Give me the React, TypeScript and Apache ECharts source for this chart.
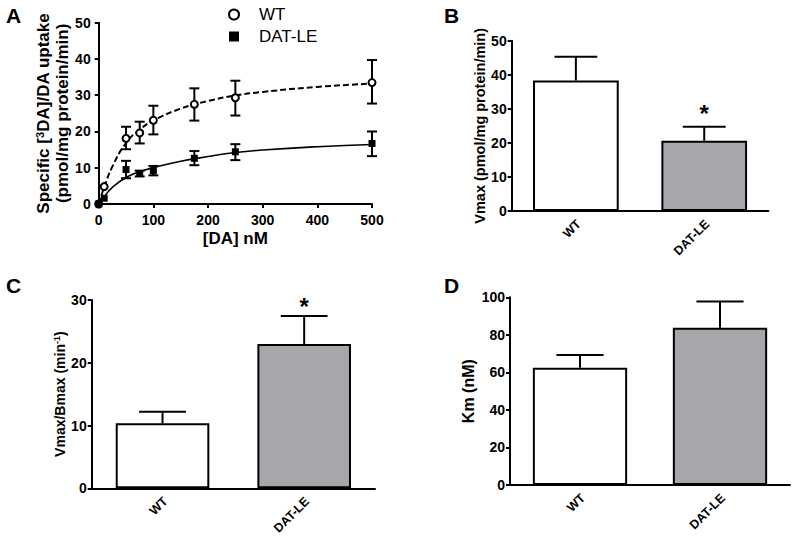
import React, { useEffect, useRef } from "react";
import * as echarts from "echarts";

const FONT = "Arial, 'Liberation Sans', sans-serif";

// Panel A: uptake kinetics
const doseNM = [0, 10, 50, 75, 100, 175, 250, 500];
const wtMean = [0, 4.8, 18.1, 19.6, 23.1, 27.5, 29.3, 33.5];
const wtLow = [0, 4.8, 15.1, 16.7, 19.2, 23.0, 24.4, 27.7];
const wtHigh = [0, 4.8, 21.3, 22.7, 27.1, 31.9, 34.0, 39.7];
const leMean = [0, 1.6, 9.5, 8.4, 9.2, 12.6, 14.4, 16.7];
const leLow = [0, 1.6, 7.1, 7.6, 7.9, 10.7, 12.1, 13.2];
const leHigh = [0, 1.6, 11.9, 9.2, 10.5, 14.6, 16.5, 20.0];

const fitDose = [0, 10, 25, 50, 75, 100, 150, 200, 250, 300, 400, 500];
const wtFit = [0, 4.6, 10.3, 16.8, 20.5, 23.0, 26.3, 28.4, 29.9, 30.9, 32.3, 33.2];
const leFit = [0, 2.0, 4.6, 7.3, 8.9, 10.0, 11.8, 13.1, 14.2, 14.9, 15.8, 16.4];

// Bar panels
const groups = ["WT", "DAT-LE"];
const barColors = ["#ffffff", "#a7a6ab"];
const vmaxMean = [38.3, 20.6];
const vmaxUpper = [45.3, 24.7];
const vmaxSig = ["", "*"];
const ratioMean = [10.35, 23.0];
const ratioUpper = [12.2, 27.45];
const ratioSig = ["", "*"];
const kmMean = [62.5, 83.8];
const kmUpper = [69.3, 97.7];
const kmSig = ["", ""];

const black = "#000";

function scatterErr(params: any, api: any) {
  const x = api.value(0);
  const lo = api.value(1);
  const hi = api.value(2);
  if (hi - lo < 0.01) return { type: "group", children: [] };
  const p1 = api.coord([x, lo]);
  const p2 = api.coord([x, hi]);
  const hw = 5;
  const st = { stroke: black, lineWidth: 2 };
  return {
    type: "group",
    children: [
      { type: "line", shape: { x1: p1[0], y1: p1[1], x2: p2[0], y2: p2[1] }, style: st },
      { type: "line", shape: { x1: p1[0] - hw, y1: p1[1], x2: p1[0] + hw, y2: p1[1] }, style: st },
      { type: "line", shape: { x1: p2[0] - hw, y1: p2[1], x2: p2[0] + hw, y2: p2[1] }, style: st },
    ],
  };
}

function makeBarErr(sig: string[], barPx: number, starGap: number) {
  return (params: any, api: any) => {
    const i = api.value(0);
    const v = api.value(1);
    const e = api.value(2);
    const pb = api.coord([i, 0]);
    const p0 = api.coord([i, v]);
    const p1 = api.coord([i, e]);
    const hw = barPx / 4;
    const st = { stroke: black, lineWidth: 2 };
    const children: any[] = [
      { type: "line", shape: { x1: p0[0], y1: p0[1], x2: p1[0], y2: p1[1] }, style: st },
      { type: "line", shape: { x1: p1[0] - hw, y1: p1[1], x2: p1[0] + hw, y2: p1[1] }, style: st },
      {
        type: "text",
        x: pb[0] + 3,
        y: pb[1] + 11,
        rotation: Math.PI / 4,
        style: {
          text: groups[params.dataIndex],
          fontSize: 12.5,
          fontWeight: "bold",
          fontFamily: FONT,
          fill: black,
          align: "right",
          verticalAlign: "middle",
        },
      },
    ];
    if (sig[params.dataIndex]) {
      children.push({
        type: "text",
        x: p1[0],
        y: p1[1] - starGap,
        style: {
          text: sig[params.dataIndex],
          fontSize: 24,
          fontWeight: "bold",
          fontFamily: FONT,
          fill: black,
          align: "center",
          verticalAlign: "middle",
        },
      });
    }
    return { type: "group", children };
  };
}

const axisLineStyle = { show: true, lineStyle: { color: black, width: 2 } };
const tickStyle = { show: true, length: 4, lineStyle: { color: black, width: 2 } };
const tickLabel = { fontSize: 14, fontWeight: "bold", color: black, fontFamily: FONT };
const nameStyle = { fontSize: 14, fontWeight: "bold", color: black, fontFamily: FONT };

export default function App() {
  const ref = useRef<HTMLDivElement>(null);
  useEffect(() => {
    if (!ref.current) return;
    const chart = echarts.init(ref.current, undefined, { renderer: "svg" });

    const barX = (gi: number) => ({
      type: "category",
      gridIndex: gi,
      data: groups,
      axisLine: axisLineStyle,
      axisTick: { show: false },
      axisLabel: { show: false },
    });
    const barY = (gi: number, max: number, interval: number, name: string, nameGap: number, fs: number, rich?: any) => ({
      type: "value",
      gridIndex: gi,
      min: 0,
      max,
      interval,
      splitLine: { show: false },
      axisLine: axisLineStyle,
      axisTick: tickStyle,
      axisLabel: { ...tickLabel, margin: 5 },
      name,
      nameLocation: "middle",
      nameGap,
      nameTextStyle: rich ? { ...nameStyle, fontSize: fs, rich } : { ...nameStyle, fontSize: fs },
    });

    const barSeries = (gi: number, vals: number[], w: number) => ({
      type: "bar",
      xAxisIndex: gi,
      yAxisIndex: gi,
      barWidth: w,
      data: vals.map((v, i) => ({ value: v, itemStyle: { color: barColors[i] } })),
      itemStyle: { borderColor: black, borderWidth: 2 },
      z: 2,
    });
    const errSeries = (gi: number, vals: number[], ups: number[], sig: string[], w: number, gap: number) => ({
      type: "custom",
      xAxisIndex: gi,
      yAxisIndex: gi,
      clip: false,
      renderItem: makeBarErr(sig, w, gap),
      data: vals.map((v, i) => [i, v, ups[i]]),
      z: 3,
    });

    const option: any = {
      animation: false,
      backgroundColor: "#fff",
      textStyle: { fontFamily: FONT },
      legend: {
        data: ["WT", "DAT-LE"],
        orient: "vertical",
        left: 228,
        top: 6,
        padding: 0,
        itemWidth: 10,
        itemHeight: 10,
        itemGap: 5,
        textStyle: { fontSize: 17, color: black, fontFamily: FONT, padding: [0, 0, 0, 15] },
      },
      graphic: [
        { type: "text", left: 6, top: 5, style: { text: "A", fontSize: 21, fontWeight: "bold", fill: black, fontFamily: FONT } },
        { type: "text", left: 444, top: 5, style: { text: "B", fontSize: 21, fontWeight: "bold", fill: black, fontFamily: FONT } },
        { type: "text", left: 6, top: 275, style: { text: "C", fontSize: 21, fontWeight: "bold", fill: black, fontFamily: FONT } },
        { type: "text", left: 444, top: 275, style: { text: "D", fontSize: 21, fontWeight: "bold", fill: black, fontFamily: FONT } },
      ],
      grid: [
        { left: 98.7, top: 22.7, width: 273.3, height: 181.3 },
        { left: 511.7, top: 40.7, width: 256.7, height: 170.3 },
        { left: 91.7, top: 300, width: 283.3, height: 188.3 },
        { left: 510, top: 297.3, width: 280, height: 187.7 },
      ],
      xAxis: [
        {
          type: "value",
          gridIndex: 0,
          min: 0,
          max: 500,
          interval: 100,
          offset: 5,
          splitLine: { show: false },
          axisLine: axisLineStyle,
          axisTick: tickStyle,
          axisLabel: { ...tickLabel, margin: 4 },
          name: "[DA] nM",
          nameLocation: "middle",
          nameGap: 21,
          nameTextStyle: { ...nameStyle, fontSize: 17 },
        },
        barX(1),
        barX(2),
        barX(3),
      ],
      yAxis: [
        {
          type: "value",
          gridIndex: 0,
          min: 0,
          max: 50,
          interval: 10,
          offset: 3,
          splitLine: { show: false },
          axisLine: axisLineStyle,
          axisTick: tickStyle,
          axisLabel: { ...tickLabel, margin: 5 },
          name: "{b|Specific [}{s|3}{b|DA]/DA uptake}\n{b|(pmol/mg protein/min)}",
          nameLocation: "middle",
          nameGap: 22,
          nameTextStyle: {
            ...nameStyle,
            rich: {
              b: { fontSize: 17, fontWeight: "bold", color: black, fontFamily: FONT, lineHeight: 19 },
              s: { fontSize: 11, fontWeight: "bold", color: black, fontFamily: FONT, lineHeight: 11, verticalAlign: "top" },
            },
          },
        },
        barY(1, 50, 10, "Vmax (pmol/mg protein/min)", 24, 14.5),
        barY(2, 30, 10, "{b|Vmax/Bmax (min}{s|-1}{b|)}", 17, 14, {
          b: { fontSize: 14, fontWeight: "bold", color: black, fontFamily: FONT, lineHeight: 16 },
          s: { fontSize: 9, fontWeight: "bold", color: black, fontFamily: FONT, lineHeight: 9, verticalAlign: "top" },
        }),
        barY(3, 100, 20, "Km (nM)", 34, 16),
      ],
      series: [
        {
          type: "line",
          name: "WT fit",
          xAxisIndex: 0,
          yAxisIndex: 0,
          data: fitDose.map((d, i) => [d, wtFit[i]]),
          smooth: true,
          showSymbol: false,
          lineStyle: { color: black, width: 2, type: [6, 3] },
          z: 2,
        },
        {
          type: "line",
          name: "DAT-LE fit",
          xAxisIndex: 0,
          yAxisIndex: 0,
          data: fitDose.map((d, i) => [d, leFit[i]]),
          smooth: true,
          showSymbol: false,
          lineStyle: { color: black, width: 1.6 },
          z: 2,
        },
        {
          type: "custom",
          xAxisIndex: 0,
          yAxisIndex: 0,
          renderItem: scatterErr,
          data: doseNM.map((d, i) => [d, wtLow[i], wtHigh[i]]),
          z: 3,
        },
        {
          type: "custom",
          xAxisIndex: 0,
          yAxisIndex: 0,
          renderItem: scatterErr,
          data: doseNM.map((d, i) => [d, leLow[i], leHigh[i]]),
          z: 3,
        },
        {
          type: "scatter",
          name: "WT",
          xAxisIndex: 0,
          yAxisIndex: 0,
          symbol: "circle",
          symbolSize: 7,
          itemStyle: { color: "#fff", borderColor: black, borderWidth: 2, opacity: 1 },
          data: doseNM.map((d, i) => [d, wtMean[i]]),
          z: 4,
        },
        {
          type: "scatter",
          name: "DAT-LE",
          xAxisIndex: 0,
          yAxisIndex: 0,
          symbol: "rect",
          symbolSize: 7,
          itemStyle: { color: black, opacity: 1 },
          data: doseNM.map((d, i) => [d, leMean[i]]),
          z: 4,
        },
        barSeries(1, vmaxMean, 85.7),
        errSeries(1, vmaxMean, vmaxUpper, vmaxSig, 85.7, 13),
        barSeries(2, ratioMean, 93.6),
        errSeries(2, ratioMean, ratioUpper, ratioSig, 93.6, 10),
        barSeries(3, kmMean, 94.3),
        errSeries(3, kmMean, kmUpper, kmSig, 94.3, 14),
      ],
    };
    chart.setOption(option);
    return () => chart.dispose();
  }, []);
  return (
    <div
      ref={ref}
      style={{ position: "fixed", left: 0, top: 0, width: 800, height: 542, background: "#fff" }}
    />
  );
}
